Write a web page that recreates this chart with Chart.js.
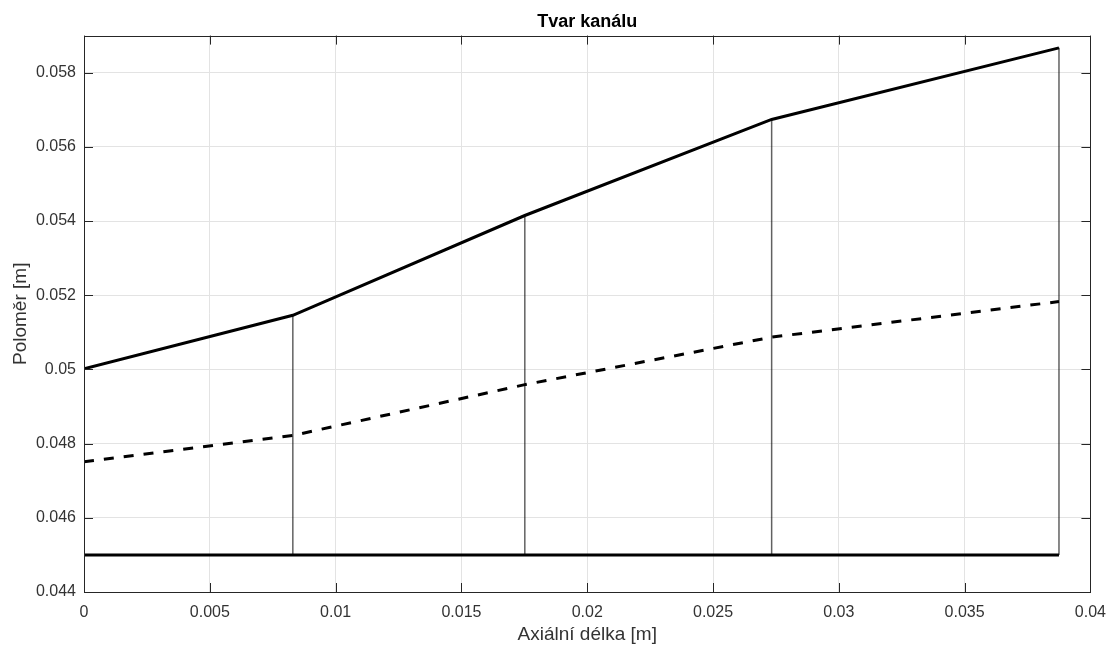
<!DOCTYPE html>
<html>
<head>
<meta charset="utf-8">
<script src="https://cdn.jsdelivr.net/npm/chart.js@4"></script>
<style>
  body { margin: 0; background: #fff; }
  #wrap { width: 1117px; height: 646px; position: relative; }
</style>
</head>
<body>
<div id="wrap"><canvas id="chart"></canvas></div>
<script>
// axial stations [m]
const stationX = [0, 0.0083, 0.01752, 0.02733, 0.03875];
// tip radius (solid upper line)
const tipR = [0.05002, 0.05146, 0.05415, 0.05674, 0.05867];
// mean radius (dashed line)
const meanR = [0.04751, 0.04822, 0.04959, 0.05087, 0.05183];
// hub radius (solid bottom line)
const hubR = [0.045, 0.045, 0.045, 0.045, 0.045];

const xTicks = [0, 0.005, 0.01, 0.015, 0.02, 0.025, 0.03, 0.035, 0.04];
const yTicks = [0.044, 0.046, 0.048, 0.05, 0.052, 0.054, 0.056, 0.058];

const axisColor = '#262626';
const gridColor = '#e3e3e3';
const fontFam = '"Liberation Sans", Arial, Helvetica, sans-serif';

const pts = (ys) => stationX.map((x, i) => ({ x: x, y: ys[i] }));

// vertical lines between hub and tip at each station
const stationLines = stationX.map((x, i) => ({
    data: [{ x: x, y: hubR[i] }, { x: x, y: tipR[i] }],
    borderColor: 'rgba(0,0,0,0.62)',
    borderWidth: 1.5,
    showLine: true,
    pointRadius: 0
}));

// box round the axes + ticks pointing inward (MATLAB look)
const boxPlugin = {
    id: 'box',
    afterDraw(chart) {
        const { ctx, chartArea: a, scales } = chart;
        const len = 9;
        ctx.save();
        ctx.strokeStyle = axisColor;
        ctx.lineWidth = 1;
        ctx.beginPath();
        xTicks.forEach(v => {
            const px = Math.round(scales.x.getPixelForValue(v)) + 0.5;
            ctx.moveTo(px, a.bottom); ctx.lineTo(px, a.bottom - len);
            ctx.moveTo(px, a.top); ctx.lineTo(px, a.top + len);
        });
        yTicks.forEach(v => {
            const py = Math.round(scales.y.getPixelForValue(v)) + 0.5;
            ctx.moveTo(a.left, py); ctx.lineTo(a.left + len, py);
            ctx.moveTo(a.right, py); ctx.lineTo(a.right - len, py);
        });
        ctx.stroke();
        ctx.strokeRect(Math.round(a.left) + 0.5, Math.round(a.top) + 0.5,
            Math.round(a.right - a.left), Math.round(a.bottom - a.top));
        ctx.restore();
    }
};

const fmt = v => String(+v.toFixed(4));

new Chart(document.getElementById('chart').getContext('2d'), {
    type: 'scatter',
    data: {
        datasets: [
            ...stationLines,
            {
                label: 'hub',
                data: pts(hubR),
                borderColor: '#000',
                borderWidth: 3,
                showLine: true,
                pointRadius: 0
            },
            {
                label: 'mean',
                data: pts(meanR),
                borderColor: '#000',
                borderWidth: 3,
                borderDash: [10, 10],
                showLine: true,
                pointRadius: 0
            },
            {
                label: 'tip',
                data: pts(tipR),
                borderColor: '#000',
                borderWidth: 3,
                showLine: true,
                pointRadius: 0
            }
        ]
    },
    options: {
        responsive: true,
        maintainAspectRatio: false,
        animation: false,
        layout: { padding: { left: 0, right: 25, top: 0, bottom: 0 } },
        scales: {
            x: {
                type: 'linear',
                min: 0,
                max: 0.04,
                afterBuildTicks: s => { s.ticks = xTicks.map(v => ({ value: v })); },
                afterFit: s => { s.height = 54; },
                grid: { color: gridColor, drawTicks: false },
                border: { display: false },
                ticks: {
                    padding: 11,
                    color: '#333',
                    font: { family: fontFam, size: 16 },
                    maxRotation: 0,
                    autoSkip: false,
                    callback: v => fmt(v)
                },
                title: {
                    display: true,
                    text: 'Axiální délka [m]',
                    color: '#333',
                    font: { family: fontFam, size: 19 },
                    padding: { top: 0, bottom: 0 }
                }
            },
            y: {
                type: 'linear',
                min: 0.044,
                max: 0.059,
                afterBuildTicks: s => { s.ticks = yTicks.map(v => ({ value: v })); },
                afterFit: s => { s.width = 84; },
                grid: { color: gridColor, drawTicks: false },
                border: { display: false },
                ticks: {
                    padding: 8,
                    color: '#333',
                    font: { family: fontFam, size: 16 },
                    autoSkip: false,
                    callback: v => fmt(v)
                },
                title: {
                    display: true,
                    text: 'Poloměr [m]',
                    color: '#333',
                    font: { family: fontFam, size: 19 },
                    padding: { top: 9, bottom: 0 }
                }
            }
        },
        plugins: {
            legend: { display: false },
            tooltip: { enabled: false },
            title: {
                display: true,
                fullSize: false,
                text: 'Tvar kanálu',
                color: '#000',
                font: { family: fontFam, size: 18, weight: 'bold' },
                padding: { top: 11, bottom: 3 }
            }
        }
    },
    plugins: [boxPlugin]
});
</script>
</body>
</html>
